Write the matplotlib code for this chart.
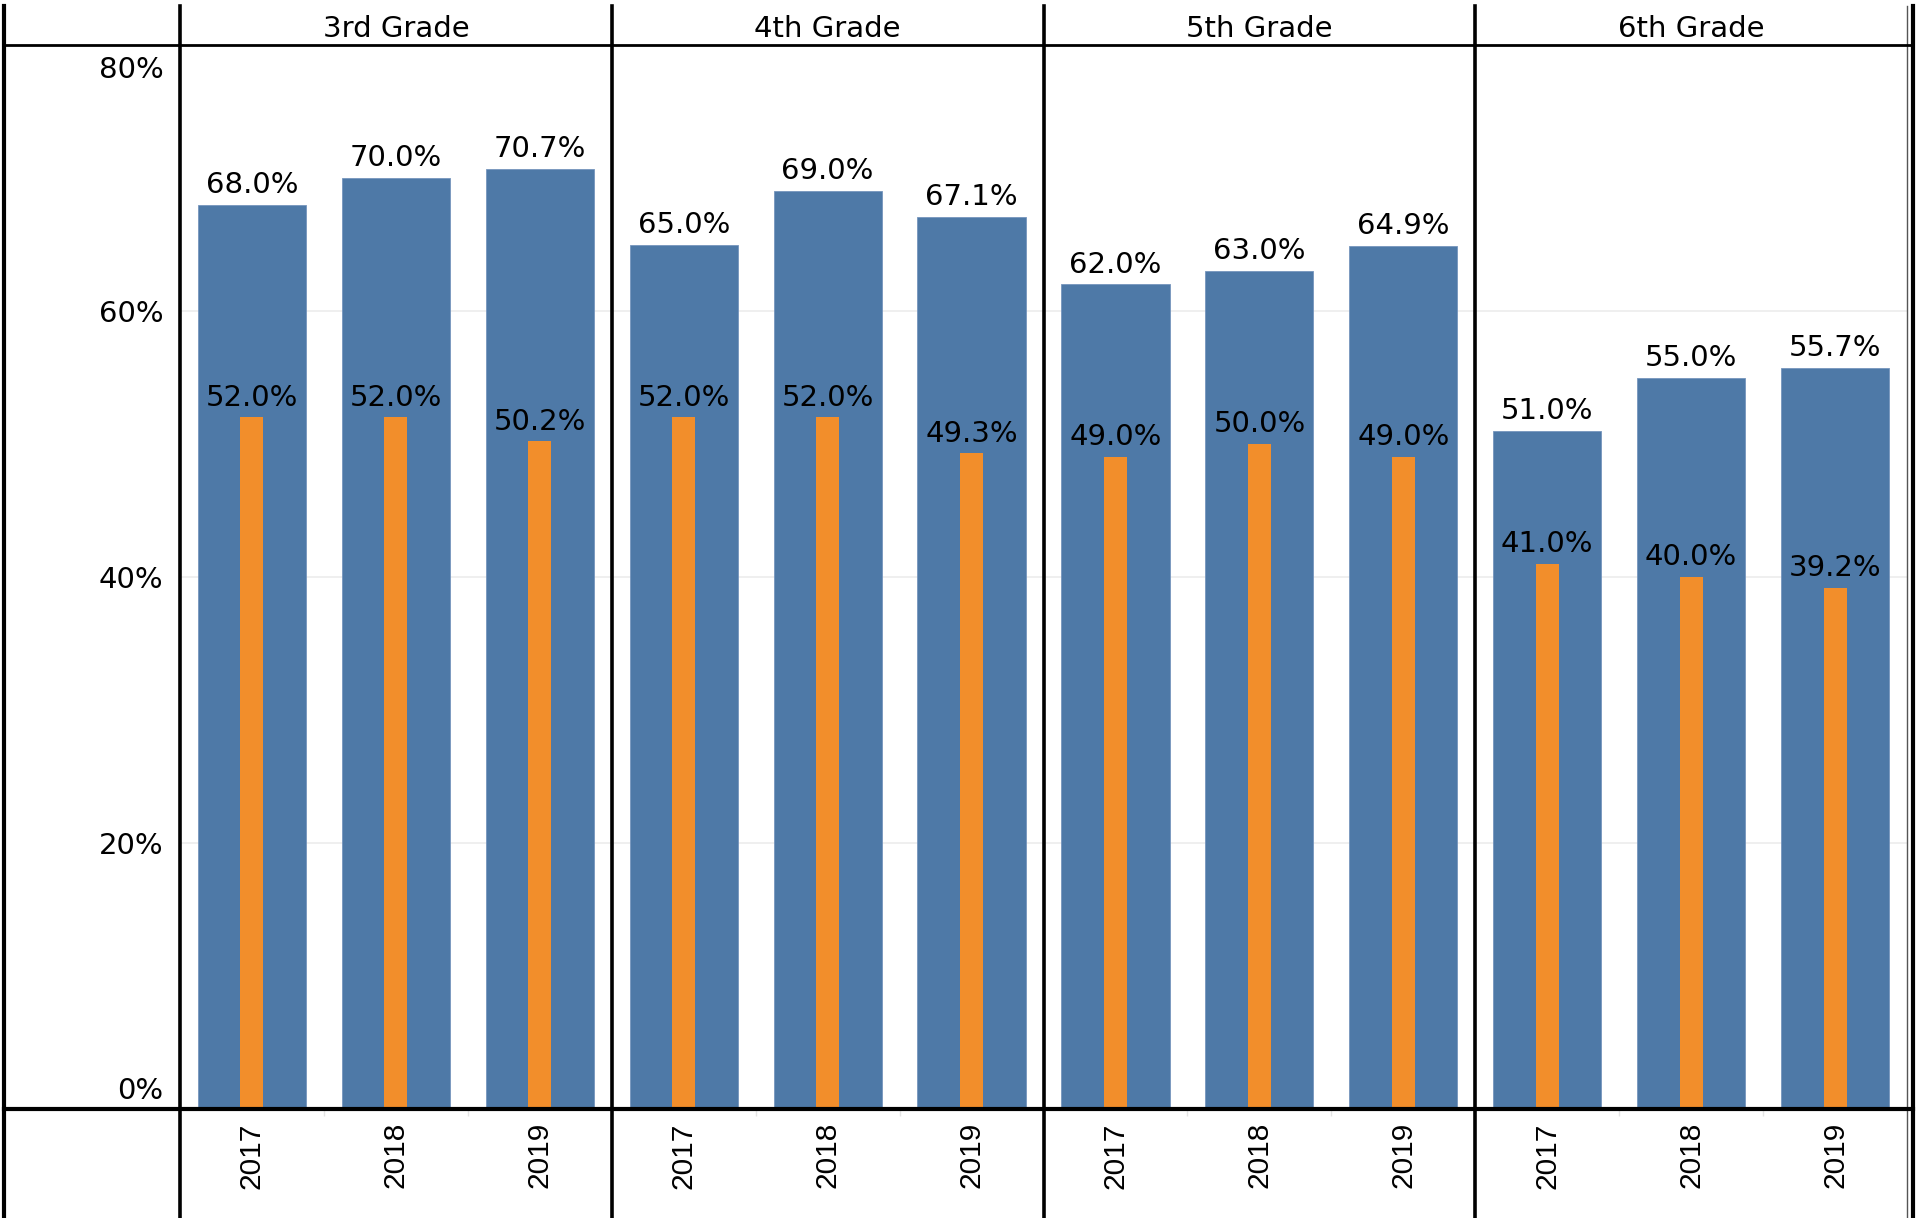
import matplotlib.pyplot as plt
from matplotlib.lines import Line2D

# proficiency rates by grade and year (percent)
grades = ['3rd Grade', '4th Grade', '5th Grade', '6th Grade']
years = ['2017', '2018', '2019']
school = [[68.0, 70.0, 70.7],
          [65.0, 69.0, 67.1],
          [62.0, 63.0, 64.9],
          [51.0, 55.0, 55.7]]
state = [[52.0, 52.0, 50.2],
         [52.0, 52.0, 49.3],
         [49.0, 50.0, 49.0],
         [41.0, 40.0, 39.2]]
y_ticks = [0, 20, 40, 60, 80]

BLUE = '#4e79a7'
ORANGE = '#f28e2b'
FS = 21

W, H = 1919, 1218
fig = plt.figure(figsize=(W / 100, H / 100), dpi=100)
fig.patch.set_facecolor('white')


def fx(x):
    return x / W


def fy(y):
    return 1 - y / H


left, right, top, bottom = 180, 1907, 45, 1109
pw = (right - left) / len(grades)

axes = []
for i, grade in enumerate(grades):
    ax = fig.add_axes([fx(left + i * pw), fy(bottom), pw / W, (bottom - top) / H])
    axes.append(ax)
    xs = range(len(years))
    ax.bar(xs, school[i], width=0.752, color=BLUE, edgecolor='#7595bd',
           linewidth=0.6, zorder=2)
    ax.bar(xs, state[i], width=0.16, color=ORANGE, linewidth=0, zorder=3)
    for x, v in zip(xs, school[i]):
        ax.annotate(f'{v:.1f}%', xy=(x, v), xytext=(0, 8.5), textcoords='offset points',
                    ha='center', va='baseline', fontsize=FS, zorder=4)
    for x, v in zip(xs, state[i]):
        ax.annotate(f'{v:.1f}%', xy=(x, v), xytext=(0, 8.5), textcoords='offset points',
                    ha='center', va='baseline', fontsize=FS, zorder=4)

    ax.set_xlim(-0.5, 2.5)
    ax.set_ylim(0, 80)
    ax.set_yticks(y_ticks)
    ax.yaxis.grid(True, color='#ececec', linewidth=1.2, zorder=0)
    ax.set_axisbelow(True)
    ax.tick_params(axis='y', length=0, labelleft=False)
    ax.set_xticks(list(xs))
    ax.set_xticklabels(years, rotation=90, fontsize=21.5, family='Liberation Sans')
    ax.tick_params(axis='x', length=0, pad=9.5)
    ax.set_xticks([0.5, 1.5], minor=True)
    ax.tick_params(axis='x', which='minor', length=5, width=1, color='#e4e4e4')
    for s in ax.spines.values():
        s.set_visible(False)

    # grade header above each panel
    ax.annotate(grade, xy=(0.5, 1), xycoords='axes fraction', xytext=(0, 6),
                textcoords='offset points', ha='center', va='baseline', fontsize=FS)

# y-axis labels in the left column
ax0 = axes[0]
for t in y_ticks:
    if t == y_ticks[-1]:
        va, dy = 'top', -8
    elif t == y_ticks[0]:
        va, dy = 'baseline', 7
    else:
        va, dy = 'center_baseline', 0
    ax0.annotate(f'{t}%', xy=(0, t), xycoords=('axes fraction', 'data'),
                 xytext=(-12, dy), textcoords='offset points',
                 ha='right', va=va, fontsize=FS)

# table-style frame lines
def vline(x, lw, color='black'):
    fig.add_artist(Line2D([fx(x), fx(x)], [fy(6), fy(H)], color=color,
                          linewidth=lw, transform=fig.transFigure))


def hline(y, lw):
    fig.add_artist(Line2D([fx(4), fx(1913)], [fy(y), fy(y)], color='black',
                          linewidth=lw, transform=fig.transFigure))


vline(4, 3)
for i in range(len(grades)):
    vline(left + i * pw, 2.6)
vline(1907, 1, color='#555555')
vline(1913, 3)
hline(top, 2)
hline(bottom, 3)

fig.savefig('out.png', dpi=100)
